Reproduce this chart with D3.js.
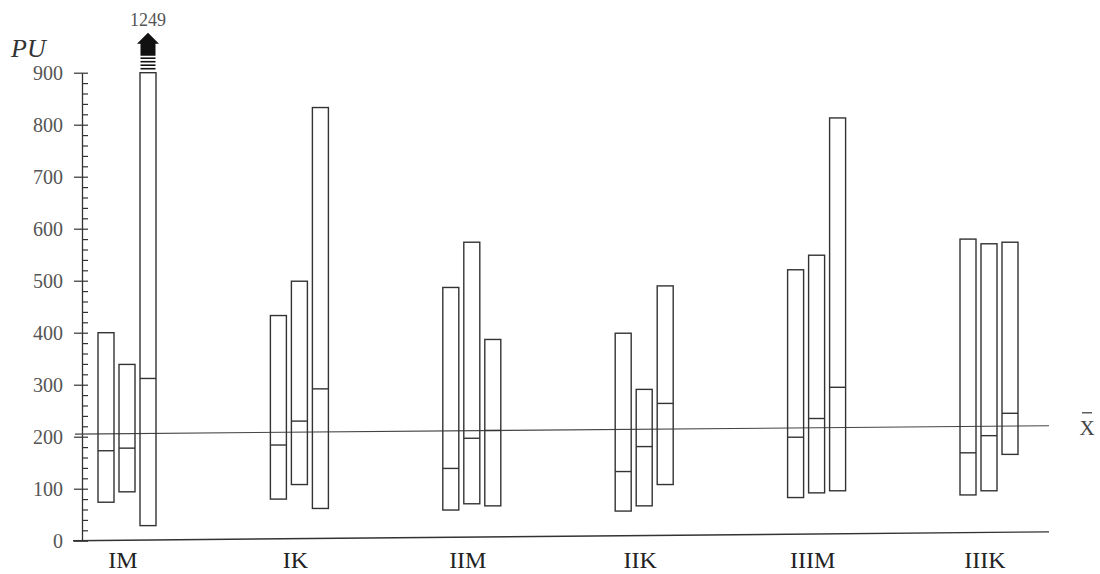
<html>
<head>
<meta charset="utf-8">
<title>PU</title>
<style>
  body { margin: 0; background: #fff; }
  text { font-family: "Liberation Serif", "DejaVu Serif", serif; }
</style>
</head>
<body>
<script src="https://cdn.jsdelivr.net/npm/d3@7"></script>
<script>
// groups and three ranges per group: low, high, middle mark
var groups = ["IM", "IK", "IIM", "IIK", "IIIM", "IIIK"];
var lows = [[74, 94, 29], [80, 108, 62], [59, 71, 67], [57, 67, 108], [83, 92, 96], [88, 96, 166]];
var highs = [[400, 339, 1249], [433, 499, 833], [487, 574, 387], [399, 291, 490], [521, 549, 813], [580, 571, 574]];
var mids = [[173, 178, 312], [184, 230, 292], [139, 197, 212], [133, 181, 264], [199, 235, 295], [169, 202, 245]];
var yTicks = [0, 100, 200, 300, 400, 500, 600, 700, 800, 900];
var meanValue = 205;
var scanTilt = 16;   // the scanned page is a bit tilted: lines rise this much to the right

var width = 1100, height = 574;
var yMax = 900;

var svg = d3.select("body").append("svg")
    .attr("width", width)
    .attr("height", height);

var y = d3.scaleLinear().domain([0, yMax]).range([540.7, 72.7]);
var x = d3.scalePoint().domain(groups).range([127, 989]);
var xi = d3.scaleBand().domain([0, 1, 2]).range([-29, 29]).paddingInner(0.238);

var axisX = 82, lineEnd = 1049;

// y axis, major ticks cross the line, minor every 20 on the right
var major = svg.append("g")
    .attr("transform", `translate(${axisX},0)`)
    .call(d3.axisLeft(y).tickValues(yTicks).tickSize(8).tickSizeOuter(0).tickPadding(11));
major.select(".domain").attr("stroke", "#333").attr("stroke-width", 1.3);
major.selectAll("line").attr("stroke", "#333").attr("stroke-width", 1.2);
major.selectAll("text")
    .attr("font-family", "Liberation Serif")
    .attr("font-size", 20)
    .attr("fill", "#555");

var minor = svg.append("g")
    .attr("transform", `translate(${axisX},0)`)
    .call(d3.axisRight(y).tickValues(d3.range(0, yMax + 1, 20)).tickSize(6).tickSizeOuter(0).tickFormat(""));
minor.select(".domain").remove();
minor.selectAll("line").attr("stroke", "#333").attr("stroke-width", 1.2);

// axis title
svg.append("text")
    .attr("x", 11).attr("y", 57)
    .attr("font-size", 26)
    .attr("font-style", "italic")
    .attr("fill", "#333")
    .text("PU");

// baseline and mean line
svg.append("line")
    .attr("x1", 73).attr("y1", y(0))
    .attr("x2", lineEnd).attr("y2", y(scanTilt + 1))
    .attr("stroke", "#333").attr("stroke-width", 1.4);

svg.append("line")
    .attr("x1", 75).attr("y1", y(meanValue))
    .attr("x2", lineEnd).attr("y2", y(meanValue + scanTilt))
    .attr("stroke", "#444").attr("stroke-width", 1.1);

var meanLabelY = y(meanValue + scanTilt) + 9;
svg.append("text")
    .attr("x", 1087).attr("y", meanLabelY)
    .attr("text-anchor", "middle")
    .attr("font-family", "DejaVu Sans")
    .attr("font-size", 21)
    .attr("fill", "#444")
    .text("X");
svg.append("line")
    .attr("x1", 1082).attr("x2", 1092)
    .attr("y1", meanLabelY - 22).attr("y2", meanLabelY - 22)
    .attr("stroke", "#444").attr("stroke-width", 1.3);

// bars
var rows = [];
groups.forEach((g, gi) => {
    for (var k = 0; k < 3; k++) {
        rows.push({ group: g, k: k, low: lows[gi][k], high: highs[gi][k], mid: mids[gi][k] });
    }
});

var bar = svg.append("g")
    .selectAll("g")
    .data(rows)
    .join("g")
    .attr("transform", d => `translate(${x(d.group) + xi(d.k)},0)`);

bar.append("rect")
    .attr("x", 0)
    .attr("width", xi.bandwidth())
    .attr("y", d => y(Math.min(d.high, yMax)))
    .attr("height", d => y(d.low) - y(Math.min(d.high, yMax)))
    .attr("fill", "none")
    .attr("stroke", "#333")
    .attr("stroke-width", 1.4);

bar.append("line")
    .attr("x1", 0).attr("x2", xi.bandwidth())
    .attr("y1", d => y(d.mid)).attr("y2", d => y(d.mid))
    .attr("stroke", "#333")
    .attr("stroke-width", 1.4);

// off-scale bar: arrow with its real maximum
var over = bar.filter(d => d.high > yMax);
var cx = xi.bandwidth() / 2;
var capY = y(yMax);

over.selectAll("line.stripe")
    .data([4, 7.5, 11, 14.5])
    .join("line")
    .attr("class", "stripe")
    .attr("x1", cx - 7.5).attr("x2", cx + 7.5)
    .attr("y1", d => capY - d).attr("y2", d => capY - d)
    .attr("stroke", "#111").attr("stroke-width", 1.6);

over.append("path")
    .attr("d", `M${cx - 7.5},${capY - 17} V${capY - 29} H${cx - 11} L${cx},${capY - 40} L${cx + 11},${capY - 29} H${cx + 7.5} V${capY - 17} Z`)
    .attr("fill", "#111");

over.append("text")
    .attr("x", cx).attr("y", capY - 47)
    .attr("text-anchor", "middle")
    .attr("font-size", 18)
    .attr("fill", "#555")
    .text(d => d.high);

// group labels
svg.append("g")
    .selectAll("text")
    .data(groups)
    .join("text")
    .attr("x", d => x(d) - 4)
    .attr("y", 568)
    .attr("text-anchor", "middle")
    .attr("font-size", 24)
    .attr("fill", "#222")
    .text(d => d);
</script>
</body>
</html>
